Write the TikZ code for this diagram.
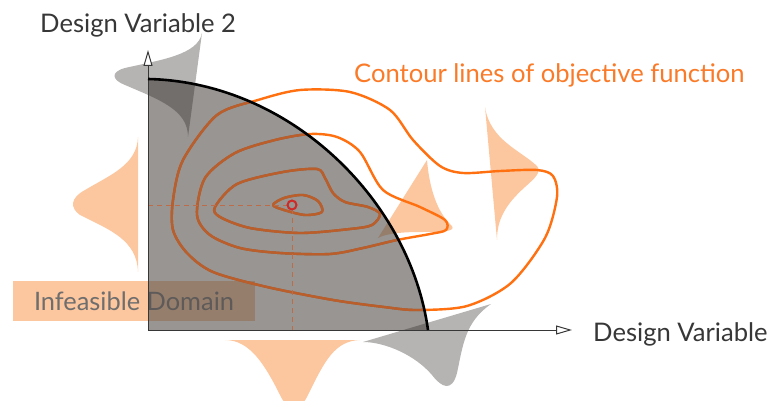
\documentclass[tikz,border=0pt]{standalone}
\usepackage{fontspec}
\setmainfont{Lato}
\usepackage{tikz}
\usetikzlibrary{arrows.meta}

\definecolor{paleorange}{RGB}{252,198,158}
\definecolor{lineorange}{RGB}{255,112,16}
\definecolor{textorange}{RGB}{250,122,40}
\definecolor{innerbrown}{RGB}{186,94,44}
\definecolor{regiongray}{RGB}{83,78,75}
\definecolor{shadowgray}{RGB}{45,38,36}
\definecolor{labelgray}{RGB}{55,55,55}
\definecolor{domaingray}{RGB}{110,110,110}
\definecolor{optred}{RGB}{205,42,40}
\definecolor{guidebrown}{RGB}{188,108,72}

\newcommand{\feasregion}{(148,79) .. controls (290,82) and (410,200) .. (428,330) -- (148,330) -- cycle}
\newcommand{\objcontours}{%
  \draw plot[smooth cycle] coordinates {(273,205) (284,198) (303,195) (318,201) (322,212) (305,215) (284,210)};
  \draw plot[smooth cycle] coordinates {(215,207) (237,184) (283,172) (317,169) (325,178) (333,193) (345,202)
    (368,207) (380,214) (372,225) (350,229) (300,233) (250,228) (220,217)};
  \draw plot[smooth cycle] coordinates {(197,215) (205,178) (235,153) (275,140) (310,134) (337,137) (360,152)
    (383,190) (420,207) (445,220) (446,230) (430,234) (397,240) (363,248) (330,254) (280,253) (240,248) (210,235)};
  \draw plot[smooth cycle] coordinates {(258,100) (300,90) (350,92) (390,110) (413,140) (440,166) (463,173)
    (500,171) (537,170) (553,176) (557,197) (545,238) (511,283) (467,306) (417,310) (384,307) (333,300)
    (267,287) (213,272) (187,253) (173,230) (173,200) (183,160) (217,115)};}

\begin{document}
\begin{tikzpicture}[x=1pt,y=-1pt,
  axislabel/.style={anchor=base west,inner sep=0pt,text=labelgray,font=\fontsize{25.6}{30}\selectfont},
  infeas/.style={fill=paleorange,minimum width=242pt,minimum height=40pt,inner sep=0pt,
                 text=domaingray,font=\fontsize{25.4}{30}\selectfont},
  distr/.style={fill=paleorange,draw=none},
  shadow/.style={fill=shadowgray,fill opacity=0.35,draw=none},
  contour/.style={line width=2.4pt,line join=round},
  axis/.style={line width=1pt,draw=labelgray,-{Triangle[length=16pt,width=9pt,fill=white]}},
  guide/.style={line width=1pt,draw=guidebrown,dash pattern=on 5pt off 4pt},
  front/.style={line width=2.6pt,draw=black}
]
\useasboundingbox (0,0) rectangle (768,401);

\coordinate (origin) at (148,330);
\coordinate (ytip) at (148,50);
\coordinate (xtip) at (572,330);
\coordinate (optimum) at (292,205);

\node[infeas] (infeasible) at (134,301) {Infeasible Domain};

\fill[distr] (138,137) .. controls (137,165) and (110,175) .. (85,190) .. controls (70,198) and (70,208) .. (80,215)
  .. controls (110,230) and (137,240) .. (138,272) -- cycle;
\fill[distr] (225,340) .. controls (250,340) and (265,365) .. (280,395) .. controls (288,412) and (300,412) .. (308,395)
  .. controls (325,360) and (335,341) .. (360,340) -- cycle;
\fill[distr] (427,160) .. controls (430,195) and (440,215) .. (452,226) .. controls (456,232) and (440,232) .. (420,232)
  .. controls (400,232) and (385,234) .. (378,238) -- cycle;
\fill[distr] (485,107) .. controls (490,140) and (520,150) .. (537,166) .. controls (542,172) and (535,178) .. (525,187)
  .. controls (505,205) and (497,220) .. (497,240) -- cycle;

\begin{scope}[contour,color=lineorange]
  \objcontours
\end{scope}

\fill[regiongray,fill opacity=0.6] \feasregion;

\begin{scope}
  \clip \feasregion;
  \begin{scope}[contour,color=innerbrown]
    \objcontours
  \end{scope}
\end{scope}

\draw[guide] (origin |- optimum) -- ([xshift=-4pt]optimum);
\draw[guide] ([yshift=-4pt]optimum) -- (optimum |- origin);
\draw[line width=2pt,draw=optred] (optimum) circle (4.5pt);

\fill[shadow] (202,33) .. controls (198,55) and (160,60) .. (125,68) .. controls (110,72) and (112,80) .. (125,85)
  .. controls (160,100) and (188,110) .. (188,137) -- cycle;
\fill[shadow] (363,342) .. controls (385,342) and (415,355) .. (432,375) .. controls (442,388) and (452,392) .. (457,373)
  .. controls (463,345) and (465,322) .. (491,304) -- cycle;

\draw[axis] (origin) -- (ytip);
\draw[axis] (origin) -- (xtip);
\draw[front] (148,79) .. controls (290,82) and (410,200) .. (428,330);

\node[axislabel] (yname) at (40,33) {Design Variable 2};
\node[axislabel] (xname) at (593,341) {Design Variable};
\node[axislabel,text=textorange] (contname) at (354,83) {Contour lines of objective function};
\end{tikzpicture}
\end{document}
